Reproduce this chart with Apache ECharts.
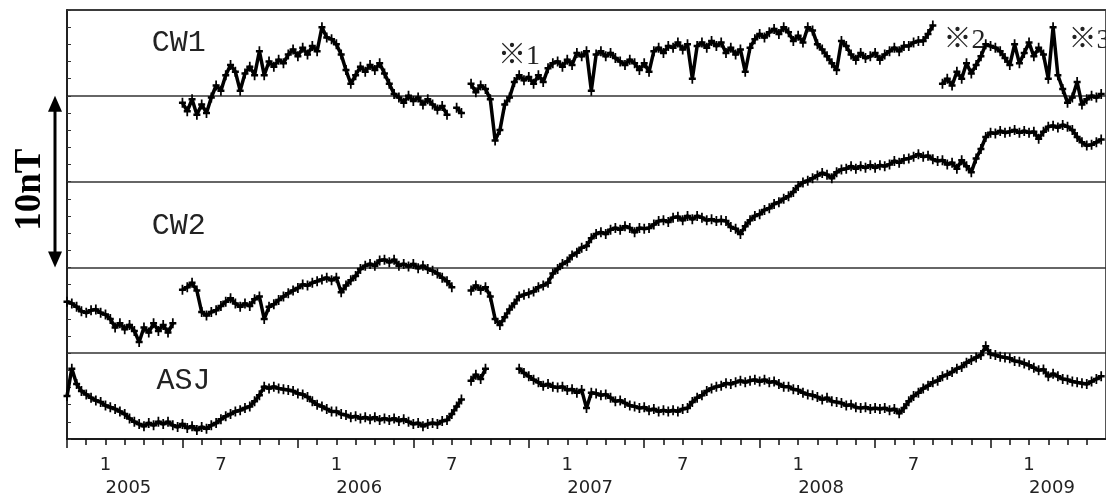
<!DOCTYPE html>
<html>
<head>
<meta charset="utf-8">
<script src="https://cdn.jsdelivr.net/npm/echarts@6/dist/echarts.min.js"></script>
<style>
  html, body { margin: 0; padding: 0; background: #fff; }
  #chart { width: 1106px; height: 497px; }
</style>
</head>
<body>
<div id="chart"></div>
<script>
// Time axis is in months, 0 = January 2005; samples every quarter month.
const step = 0.25;

// CW1 (nT, offset trace), first sample at month 4
const cw1Start = 4;
const cw1 = [
  19.6, 19.1, 19.8, 18.9, 19.5, 19.0, 19.9, 20.6, 20.3, 21.2,
  21.8, 21.4, 20.3, 21.3, 21.7, 21.2, 22.6, 21.2, 22.0, 21.7,
  22.1, 21.9, 22.4, 22.7, 22.3, 22.8, 22.4, 22.9, 22.6, 24.0,
  23.4, 23.3, 23.0, 22.4, 21.5, 20.7, 21.2, 21.7, 21.4, 21.8,
  21.5, 21.9, 21.3, 20.7, 20.1, 19.9, 19.6, 20.0, 19.7, 19.9,
  19.5, 19.8, 19.5, 19.2, 19.4, 18.9, null, 19.3, 19.0, null,
  20.7, 20.2, 20.6, 20.4, 19.8, 17.4, 18.0, 19.5, 19.9, 20.8,
  21.2, 20.9, 21.1, 20.7, 21.2, 20.8, 21.6, 21.9, 22.0, 21.7,
  22.1, 21.8, 22.5, 22.3, 22.6, 20.3, 22.4, 22.6, 22.3, 22.5,
  22.2, 22.0, 21.8, 22.1, 21.9, 21.5, 21.9, 21.4, 22.6, 22.8,
  22.5, 22.9, 22.8, 23.1, 22.7, 23.0, 21.0, 22.9, 23.1, 22.8,
  23.2, 22.9, 23.1, 22.5, 22.8, 22.4, 22.7, 21.4, 22.8, 23.3,
  23.6, 23.4, 23.7, 23.9, 23.6, 24.0, 23.7, 23.2, 23.5, 23.1,
  24.0, 23.8, 23.0, 22.7, 22.3, 21.9, 21.5, 23.2, 22.9, 22.4,
  22.1, 22.5, 22.2, 22.3, 22.5, 22.1, 22.4, 22.6, 22.8, 22.6,
  22.9, 22.9, 23.1, 23.2, 23.2, 23.6, 24.1, null, 20.7, 21.0,
  20.6, 21.4, 21.0, 21.9, 21.3, 21.8, 22.3, 23.0, 22.9, 22.8,
  22.6, 22.2, 21.8, 23.0, 21.9, 22.5, 23.1, 22.3, 22.8, 22.4,
  21.0, 24.0, 21.2, 20.4, 19.6, 19.9, 20.8, 19.5, 19.8, 20.0,
  19.9, 20.1
];

// CW2, first sample at month -2 (November 2004)
const cw2Start = -2;
const cw2 = [
  8.0, 7.9, 7.7, 7.45, 7.35, 7.5, 7.55, 7.35, 7.25, 7.0,
  6.5, 6.75, 6.4, 6.65, 6.3, 5.65, 6.5, 6.2, 6.75, 6.3,
  6.65, 6.2, 6.75, null, 8.7, 8.85, 9.1, 8.65, 7.4, 7.2,
  7.4, 7.5, 7.75, 8.0, 8.2, 7.9, 7.7, 7.9, 7.75, 8.15,
  8.3, 7.0, 7.7, 7.85, 8.1, 8.3, 8.5, 8.65, 8.8, 9.0,
  8.95, 9.1, 9.2, 9.3, 9.4, 9.25, 9.4, 8.55, 8.95, 9.25,
  9.5, 9.9, 10.1, 10.2, 10.1, 10.4, 10.45, 10.3, 10.45, 10.1,
  10.2, 10.05, 10.2, 9.95, 10.1, 9.9, 9.8, 9.65, 9.4, 9.2,
  8.85, null, null, null, 8.65, 8.95, 8.7, 8.85, 8.3, 7.0,
  6.65, 7.1, 7.55, 7.9, 8.3, 8.4, 8.5, 8.6, 8.85, 8.95,
  9.1, 9.65, 9.9, 10.2, 10.35, 10.7, 10.85, 11.15, 11.25, 11.7,
  11.95, 12.05, 11.95, 12.2, 12.3, 12.2, 12.4, 12.3, 12.05, 12.3,
  12.25, 12.3, 12.5, 12.7, 12.75, 12.65, 12.9, 12.95, 12.75, 13.0,
  12.8, 13.0, 12.9, 12.75, 12.8, 12.7, 12.75, 12.7, 12.35, 12.25,
  11.95, 12.4, 12.75, 13.0, 13.1, 13.35, 13.45, 13.7, 13.8, 14.0,
  14.15, 14.4, 14.75, 14.95, 15.05, 15.2, 15.35, 15.5, 15.4, 15.2,
  15.55, 15.7, 15.75, 15.9, 15.75, 15.9, 15.8, 15.95, 15.8, 15.95,
  15.9, 16.0, 16.2, 16.1, 16.3, 16.35, 16.45, 16.6, 16.45, 16.5,
  16.3, 16.2, 16.25, 16.0, 16.1, 15.75, 16.25, 15.9, 15.55, 16.35,
  16.9, 17.6, 17.85, 17.8, 17.95, 17.85, 17.9, 18.0, 17.85, 17.95,
  17.85, 17.9, 17.5, 17.9, 18.2, 18.25, 18.15, 18.3, 18.2, 18.0,
  17.6, 17.3, 17.1, 17.15, 17.3, 17.45
];

// ASJ, first sample at month -2
const asjStart = -2;
const asj = [
  2.5, 4.1, 3.2, 2.8, 2.6, 2.4, 2.25, 2.15, 1.95, 1.85,
  1.75, 1.6, 1.45, 1.2, 1.0, 0.87, 0.75, 0.93, 0.8, 1.0,
  0.87, 1.0, 0.8, 0.7, 0.87, 0.64, 0.75, 0.52, 0.7, 0.6,
  0.8, 0.93, 1.15, 1.33, 1.45, 1.6, 1.68, 1.8, 1.9, 2.2,
  2.55, 3.05, 2.95, 3.05, 2.95, 2.9, 2.85, 2.8, 2.65, 2.6,
  2.45, 2.2, 2.0, 1.9, 1.75, 1.6, 1.6, 1.45, 1.4, 1.27,
  1.33, 1.2, 1.27, 1.15, 1.27, 1.1, 1.2, 1.1, 1.2, 1.05,
  1.15, 1.0, 0.87, 0.93, 0.75, 0.87, 0.93, 0.87, 1.05, 1.1,
  1.45, 1.9, 2.3, null, 3.4, 3.75, 3.5, 4.1, null, null,
  null, null, null, null, 4.1, 3.85, 3.65, 3.45, 3.3, 3.1,
  3.2, 3.05, 3.0, 3.05, 2.85, 2.9, 2.7, 2.85, 1.8, 2.7,
  2.65, 2.55, 2.6, 2.4, 2.2, 2.25, 2.1, 1.95, 1.9, 1.8,
  1.85, 1.68, 1.75, 1.6, 1.68, 1.6, 1.68, 1.6, 1.75, 1.8,
  2.15, 2.4, 2.55, 2.8, 2.95, 3.05, 3.1, 3.25, 3.2, 3.3,
  3.4, 3.3, 3.4, 3.45, 3.35, 3.45, 3.3, 3.35, 3.2, 3.05,
  3.05, 2.9, 2.85, 2.7, 2.6, 2.55, 2.45, 2.3, 2.4, 2.2,
  2.15, 2.1, 1.95, 2.0, 1.85, 1.8, 1.85, 1.75, 1.8, 1.75,
  1.8, 1.68, 1.75, 1.5, 1.8, 2.2, 2.5, 2.7, 2.95, 3.1,
  3.3, 3.4, 3.65, 3.75, 3.9, 4.1, 4.2, 4.45, 4.6, 4.75,
  4.9, 5.4, 4.95, 4.9, 4.8, 4.75, 4.7, 4.55, 4.5, 4.4,
  4.3, 4.15, 4.0, 4.05, 3.65, 3.8, 3.65, 3.5, 3.45, 3.35,
  3.3, 3.25, 3.2, 3.35, 3.5, 3.65
];

// Axis ticks and labels
const monthTicks = [];
for (let m = -2; m <= 51; m++) monthTicks.push(m);
const halfYearTicks = [-2, 4, 10, 16, 22, 28, 34, 40, 46];
const monthLabelAt = [0, 6, 12, 18, 24, 30, 36, 42, 48];
const monthNames = { 0: '1', 6: '7' };
const yearLabelAt = [0, 12, 24, 36, 48];
const yearNames = ['2005', '2006', '2007', '2008', '2009'];
const nTTicks = [];
for (let v = 0; v <= 25; v++) nTTicks.push(v);

const stationNames = ['CW1', 'CW2', 'ASJ'];
const noteNames = ['※1', '※2', '※3'];

function toPairs(start, values) {
  return values.map((v, i) => [start + i * step, v === null ? '-' : v]);
}

const crossSymbol = 'path://M3,0H5V3H8V5H5V8H3V5H0V3H3Z';
function trace(name, start, values) {
  return {
    name: name,
    type: 'line',
    data: toPairs(start, values),
    connectNulls: false,
    symbol: crossSymbol,
    symbolSize: [7, 10],
    showAllSymbol: true,
    itemStyle: { color: '#000' },
    lineStyle: { color: '#000', width: 3.5 },
    emphasis: { disabled: true },
    silent: true
  };
}

const chart = echarts.init(document.getElementById('chart'), null, { renderer: 'canvas' });

const tickFont = '"DejaVu Sans", sans-serif';

chart.setOption({
  animation: false,
  backgroundColor: '#fff',
  grid: {
    left: 67, right: -2, top: 10, bottom: 54,
    show: true, borderColor: '#555', borderWidth: 2, backgroundColor: 'transparent'
  },
  xAxis: [
    {
      type: 'value', min: -2, max: 52, position: 'bottom',
      axisLine: { show: true, onZero: false, lineStyle: { color: '#111', width: 1.5 } },
      axisTick: { show: true, customValues: monthTicks, length: 6, lineStyle: { color: '#111', width: 1.5 } },
      axisLabel: {
        customValues: monthLabelAt,
        formatter: v => monthNames[((v % 12) + 12) % 12],
        margin: 17, fontFamily: tickFont, fontSize: 18, color: '#222'
      },
      splitLine: { show: false }
    },
    {
      type: 'value', min: -2, max: 52, position: 'bottom', offset: 0,
      axisLine: { show: false, onZero: false },
      axisTick: { show: true, customValues: halfYearTicks, length: 9, lineStyle: { color: '#111', width: 1.5 } },
      axisLabel: {
        customValues: yearLabelAt,
        formatter: v => yearNames[Math.round(v / 12)],
        align: 'left', margin: 40, fontFamily: tickFont, fontSize: 18, color: '#222'
      },
      splitLine: { show: false }
    }
  ],
  yAxis: [
    {
      // divisions every 5 nT
      type: 'value', min: 0, max: 25, interval: 5, position: 'left',
      axisLine: { show: true, onZero: false, lineStyle: { color: '#111', width: 1.5 } },
      axisTick: { show: false },
      axisLabel: { show: false },
      splitLine: { show: true, lineStyle: { color: '#333', width: 1.5 } }
    },
    {
      // 1 nT ticks
      type: 'value', min: 0, max: 25, position: 'left', offset: 0,
      axisLine: { show: false, onZero: false },
      axisTick: { show: true, inside: true, customValues: nTTicks, length: 4, lineStyle: { color: '#333', width: 1 } },
      axisLabel: { show: false },
      splitLine: { show: false }
    }
  ],
  series: [
    trace(stationNames[0], cw1Start, cw1),
    trace(stationNames[1], cw2Start, cw2),
    trace(stationNames[2], asjStart, asj)
  ]
});

// Annotations anchored to the axes' scales
const at = (m, v) => chart.convertToPixel({ xAxisIndex: 0, yAxisIndex: 0 }, [m, v]);
const stationFont = '"Liberation Mono", monospace';
const noteFont = '"Liberation Serif", "Noto Sans CJK JP", serif';

function label(text, m, v, font, size) {
  const p = at(m, v);
  return {
    type: 'text', x: p[0], y: p[1], silent: true,
    style: { text: text, fontFamily: font, fontSize: size, fill: '#222',
             textAlign: 'left', textVerticalAlign: 'middle' }
  };
}

const top10 = at(-2, 20);
const bot10 = at(-2, 10);
const arrowX = top10[0] - 12;
const head = 16, halfW = 7;

chart.setOption({
  graphic: [
    label(stationNames[0], 2.4, 23.1, stationFont, 30),
    label(stationNames[1], 2.4, 12.4, stationFont, 30),
    label(stationNames[2], 2.65, 3.35, stationFont, 30),
    label(noteNames[0], 20.4, 22.3, noteFont, 28),
    label(noteNames[1], 43.55, 23.2, noteFont, 28),
    label(noteNames[2], 50.05, 23.2, noteFont, 28),
    {
      type: 'line', silent: true,
      shape: { x1: arrowX, y1: top10[1] + head - 2, x2: arrowX, y2: bot10[1] - head + 2 },
      style: { stroke: '#000', lineWidth: 3 }
    },
    {
      type: 'polygon', silent: true,
      shape: { points: [[arrowX, top10[1]], [arrowX - halfW, top10[1] + head], [arrowX + halfW, top10[1] + head]] },
      style: { fill: '#000' }
    },
    {
      type: 'polygon', silent: true,
      shape: { points: [[arrowX, bot10[1]], [arrowX - halfW, bot10[1] - head], [arrowX + halfW, bot10[1] - head]] },
      style: { fill: '#000' }
    },
    {
      type: 'text', silent: true,
      x: top10[0] - 37, y: (top10[1] + bot10[1]) / 2 + 8, rotation: Math.PI / 2,
      style: { text: '10nT', fontFamily: '"Liberation Serif", serif', fontWeight: 'bold', fontSize: 37,
               fill: '#000', textAlign: 'center', textVerticalAlign: 'middle' }
    }
  ]
});
</script>
</body>
</html>
